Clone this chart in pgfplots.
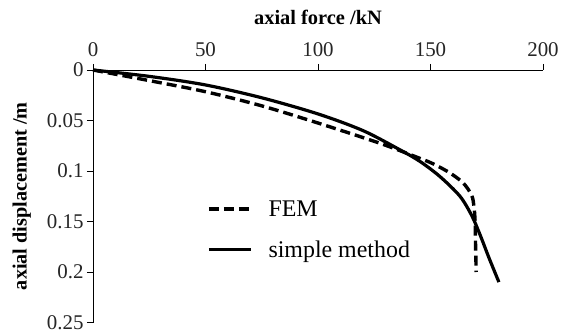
\documentclass[border=0pt]{standalone}
\usepackage{pgfplots}
\pgfplotsset{compat=1.18}
\usepackage{fontspec}
\setmainfont{Liberation Serif}
\begin{document}
\begin{tikzpicture}
\begin{axis}[
  name=ax,
  scale only axis,
  width=450bp, height=252.5bp,
  xmin=0, xmax=200, ymin=0, ymax=0.25,
  y dir=reverse,
  axis x line*=top, axis y line*=left,
  axis line style={-, black, line width=0.8bp},
  xtick={0,50,100,150,200},
  xticklabels={0,50,100,150,200},
  ytick={0,0.05,0.1,0.15,0.2,0.25},
  yticklabels={0,0.05,0.1,0.15,0.2,0.25},
  xticklabel pos=top,
  tick align=outside,
  major tick length=6bp,
  tick style={black, line width=0.8bp},
  ticklabel style={font=\fontsize{21}{24}\selectfont, text=black!85},
  xticklabel style={yshift=4bp},
  xlabel={\textbf{axial force /kN}},
  ylabel={\textbf{axial displacement /m}},
  xlabel style={font=\fontsize{20.5}{24}\selectfont, yshift=11bp},
  ylabel style={font=\fontsize{20.3}{24}\selectfont, yshift=9bp},
  clip=false,
  legend cell align=left,
  legend style={draw=none, fill=none, font=\fontsize{24}{28}\selectfont,
    at={(axis cs:49.3,0.125)}, anchor=north west, row sep=19bp,
    /tikz/column 1/.style={column sep=14bp}},
  legend image code/.code={\draw[#1] (0bp,0bp) -- (42bp,0bp);},
]
\addplot[black, line width=3.4bp, dash pattern=on 10bp off 5bp, smooth, tension=0.5] coordinates {
(0,0) (25,0.0105) (50,0.0215) (75,0.0355) (100,0.0525) (127.6,0.0726)
(145.3,0.0875) (151.3,0.093) (158.7,0.102) (164.6,0.112) (168.3,0.124)
(169.3,0.135) (169.8,0.1485) (170,0.17) (170.3,0.2)
};
\addlegendentry{FEM}
\addplot[black, line width=3.2bp, smooth, tension=0.5] coordinates {
(0,0) (25,0.0063) (50,0.0148) (75,0.0275) (100,0.0435) (120,0.06)
(136.4,0.079) (145.3,0.0905) (154.2,0.1055) (163.1,0.125) (168.3,0.144)
(172,0.163) (176,0.186) (180.4,0.21)
};
\addlegendentry{simple method}
\coordinate (tl) at (axis cs:0,0);
\end{axis}
\pgfresetboundingbox
\useasboundingbox (tl) ++(-93bp,70bp) rectangle ++(569bp,-333bp);
\end{tikzpicture}
\end{document}
